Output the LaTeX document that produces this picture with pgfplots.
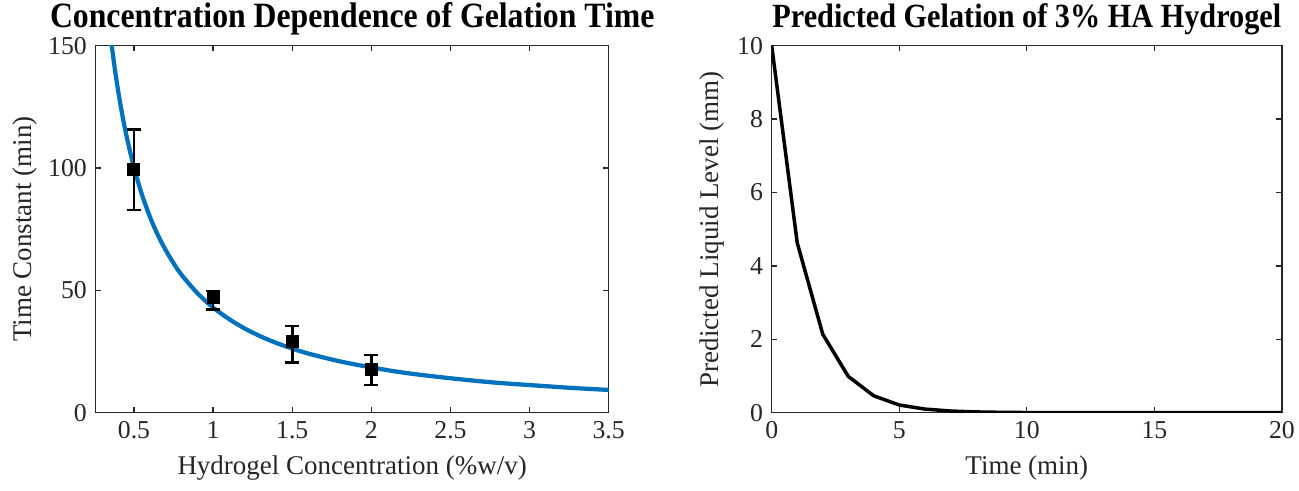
\documentclass[border=0pt]{standalone}
\usepackage{pgfplots}
\pgfplotsset{compat=1.18}
\usepackage{fontspec}
\setmainfont{Liberation Serif}
\definecolor{mblue}{rgb}{0,0.447,0.741}
\definecolor{axgray}{rgb}{0.15,0.15,0.15}
\pgfplotsset{
  myaxis/.style={
    scale only axis,
    anchor=south west,
    height=146.8pt,
    axis line style={axgray, line width=0.6pt},
    tick style={axgray, line width=0.5pt},
    major tick length=2.2pt,
    tick align=inside,
    xtick pos=both, ytick pos=both,
    ticklabel style={font=\fontsize{10.3}{12}\selectfont, text=axgray},
    /pgf/number format/assume math mode=true,
    label style={font=\fontsize{10.8}{13}\selectfont, text=axgray},
    title style={at={(axis description cs:0.5,1)}, anchor=base, yshift=1.2pt, inner sep=0pt, text=black},
    clip=true,
  }
}
\begin{document}
\begin{tikzpicture}
\path[use as bounding box] (0,0) rectangle (519.6pt,196pt);
\begin{axis}[myaxis,
  at={(38.28pt,30.92pt)},
  width=205.2pt,
  xmin=0.258, xmax=3.5, ymin=0, ymax=150,
  xtick={0.5,1,1.5,2,2.5,3,3.5},
  xticklabels={0.5,1,1.5,2,2.5,3,3.5},
  ytick={0,50,100,150},
  title={\fontsize{12.7}{14}\selectfont\bfseries\scalebox{1}[1.12]{Concentration Dependence of Gelation Time}},
  xlabel={Hydrogel Concentration (\%w/v)},
  ylabel={Time Constant (min)},
  ylabel style={at={(axis description cs:-0.138,0.5)}, anchor=center},
]
\addplot[mblue, line width=1.7pt, smooth] coordinates {
(0.355,151) (0.36,149.6) (0.38,140.0) (0.40,131.5) (0.42,123.9) (0.45,113.9) (0.50,100.2)
(0.55,89.2) (0.60,80.2) (0.65,72.7) (0.70,66.5) (0.75,61.1) (0.80,56.4) (0.90,48.9)
(1.00,43.0) (1.1,38.3) (1.2,34.4) (1.3,31.2) (1.4,28.5) (1.5,26.2) (1.6,24.2)
(1.8,21.0) (2.0,18.5) (2.2,16.4) (2.4,14.8) (2.6,13.4) (2.8,12.2) (3.0,11.3)
(3.25,10.2) (3.5,9.3)
};
\addplot[black, only marks, mark=square*, mark size=2.4pt,
  error bars/.cd, y dir=both, y explicit,
  error bar style={line width=1.1pt},
  error mark options={rotate=90, mark size=2.8pt, line width=1.1pt}]
coordinates {
(0.5,99.2) += (0,16.5) -= (0,16.4)
(1.0,47.0) += (0,2.7) -= (0,4.7)
(1.5,29.0) += (0,6.4) -= (0,8.4)
(2.0,17.5) += (0,6.1) -= (0,6.2)
};
\end{axis}
\begin{axis}[myaxis,
  at={(308.68pt,30.92pt)},
  width=204.1pt,
  xmin=0, xmax=20, ymin=0, ymax=10,
  xtick={0,5,10,15,20},
  ytick={0,2,4,6,8,10},
  title={\fontsize{12.1}{14}\selectfont\bfseries\scalebox{1}[1.12]{Predicted Gelation of 3\% HA Hydrogel}},
  xlabel={Time (min)},
  ylabel={Predicted Liquid Level (mm)},
  ylabel style={at={(axis description cs:-0.117,0.5)}, anchor=center},
]
\addplot[black, line width=1.4pt] coordinates {
(0,10) (1,4.63) (2,2.14) (3,0.99) (4,0.46) (5,0.21) (6,0.099) (7,0.046)
(8,0.021) (9,0.0098) (10,0.0045) (11,0.0021) (12,0.001) (13,0.0005)
(14,0.0002) (15,0.0001) (16,0) (17,0) (18,0) (19,0) (20,0)
};
\end{axis}
\end{tikzpicture}
\end{document}
